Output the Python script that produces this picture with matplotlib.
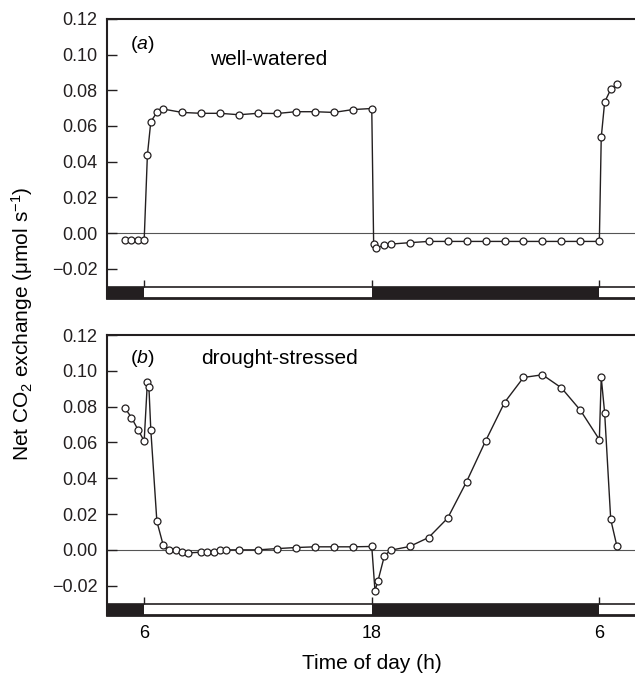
import matplotlib
matplotlib.use('Agg')
import matplotlib.pyplot as plt

plt.rcParams['font.family'] = ['Liberation Sans', 'DejaVu Sans']
plt.rcParams['mathtext.fontset'] = 'custom'
plt.rcParams['mathtext.rm'] = 'Liberation Sans'
plt.rcParams['mathtext.it'] = 'Liberation Sans:italic'

# time of day (h, continuous: 30 = 6 h next day) and net CO2 exchange
t_ww = [5.0, 5.33, 5.67, 6.0, 6.17, 6.35, 6.67, 7.0, 8, 9, 10, 11, 12, 13, 14, 15, 16, 17, 18,
        18.1, 18.25, 18.65, 19.0, 20, 21, 22, 23, 24, 25, 26, 27, 28, 29, 30,
        30.1, 30.28, 30.6, 30.93]
v_ww = [-0.004, -0.004, -0.004, -0.004, 0.0437, 0.0624, 0.0676, 0.0695, 0.0676, 0.0671, 0.0671,
        0.0663, 0.0671, 0.067, 0.068, 0.068, 0.0676, 0.0692, 0.0698,
        -0.0062, -0.0082, -0.0069, -0.0062, -0.0054, -0.0047, -0.0047, -0.0047, -0.0047, -0.0047,
        -0.0047, -0.0047, -0.0047, -0.0047, -0.0047,
        0.0536, 0.0734, 0.0805, 0.0835]

t_ds = [5.0, 5.33, 5.67, 6.0, 6.17, 6.25, 6.35, 6.67, 7.0, 7.33, 7.67, 8.0, 8.33, 9.0, 9.33, 9.67,
        10.0, 10.33, 11, 12, 13, 14, 15, 16, 17, 18, 18.17, 18.33, 18.67, 19,
        20, 21, 22, 23, 24, 25, 26, 27, 28, 29, 30, 30.1, 30.28, 30.6, 30.93]
v_ds = [0.079, 0.0739, 0.0672, 0.0608, 0.0939, 0.0909, 0.067, 0.0159, 0.0028, -0.0002, 0.0,
        -0.0013, -0.0017, -0.0013, -0.0013, -0.001, -0.0002, 0.0, 0.0, 0.0, 0.0007, 0.0013,
        0.0017, 0.0017, 0.0017, 0.0019, -0.0228, -0.0172, -0.0032, -0.0002,
        0.0019, 0.0069, 0.0177, 0.0381, 0.0608, 0.0823, 0.0963, 0.0978, 0.0905, 0.078, 0.0616,
        0.0963, 0.0765, 0.017, 0.0019]

dark_periods = [(3.5, 6), (18, 30)]
light_periods = [(6, 18), (30, 33)]
switch_times = [6, 18, 30]

yticks = [-0.02, 0.0, 0.02, 0.04, 0.06, 0.08, 0.10, 0.12]
ytick_labels = ['\u22120.02', '0.00', '0.02', '0.04', '0.06', '0.08', '0.10', '0.12']
xticks = [6, 18, 30]
xtick_labels = ['6', '18', '6']

panels = [('a', 'well-watered', t_ww, v_ww), ('b', 'drought-stressed', t_ds, v_ds)]

fig = plt.figure(figsize=(6.35, 6.74), dpi=100)
ax_top = fig.add_axes([0.1685, 0.5579, 0.8315, 0.414])
ax_bot = fig.add_axes([0.1685, 0.0875, 0.8315, 0.4154])

xlim = (4.04, 31.88)
ylim = (-0.0364, 0.12)
bar_top = -0.0303

for ax, (letter, label, t, v) in zip([ax_top, ax_bot], panels):
    ax.set_xlim(*xlim)
    ax.set_ylim(*ylim)
    ax.axhline(0, color='#555555', lw=0.8, zorder=1)
    # light / dark bar
    for a, b in dark_periods:
        ax.fill_between([a, b], ylim[0], bar_top, color='#231f20', lw=0, zorder=2)
    for a, b in light_periods:
        ax.fill_between([a, b], ylim[0], bar_top, color='white', lw=0, zorder=2)
    ax.axhline(bar_top, color='#231f20', lw=1.2, zorder=3)
    ax.vlines(switch_times, bar_top, bar_top + 0.0038, color='#231f20', lw=1.0, zorder=3)

    ax.plot(t, v, '-o', color='#231f20', lw=1.0, ms=5, mfc='white', mec='#231f20',
            mew=0.9, zorder=4, clip_on=False)

    ax.text(5.25, 0.1055 if letter == 'a' else 0.107, r'($\mathit{' + letter + '}$)',
            fontsize=14, va='center', ha='left')
    ax.text(9.45 if letter == 'a' else 9.0, 0.097 if letter == 'a' else 0.107, label,
            fontsize=15, va='center', ha='left')

    ax.set_yticks(yticks)
    ax.set_yticklabels(ytick_labels, fontsize=13)
    ax.tick_params(axis='y', direction='in', length=7, width=1.0, pad=7, colors='#231f20')
    ax.set_xticks(xticks)
    ax.tick_params(axis='x', length=0, pad=7)
    for s in ['left', 'top']:
        ax.spines[s].set_linewidth(1.5)
        ax.spines[s].set_color('#231f20')
    ax.spines['bottom'].set_linewidth(2.0)
    ax.spines['bottom'].set_color('#231f20')
    ax.spines['right'].set_visible(False)

ax_top.set_xticklabels([])
ax_bot.set_xticklabels(xtick_labels, fontsize=13)

fig.text(0.586, 0.015, 'Time of day (h)', fontsize=15, ha='center', va='center')
fig.text(0.035, 0.519, r'Net CO$_2$ exchange (μmol s$^{-1}$)', fontsize=15,
         ha='center', va='center', rotation=90)

fig.savefig('out.png', dpi=100)
